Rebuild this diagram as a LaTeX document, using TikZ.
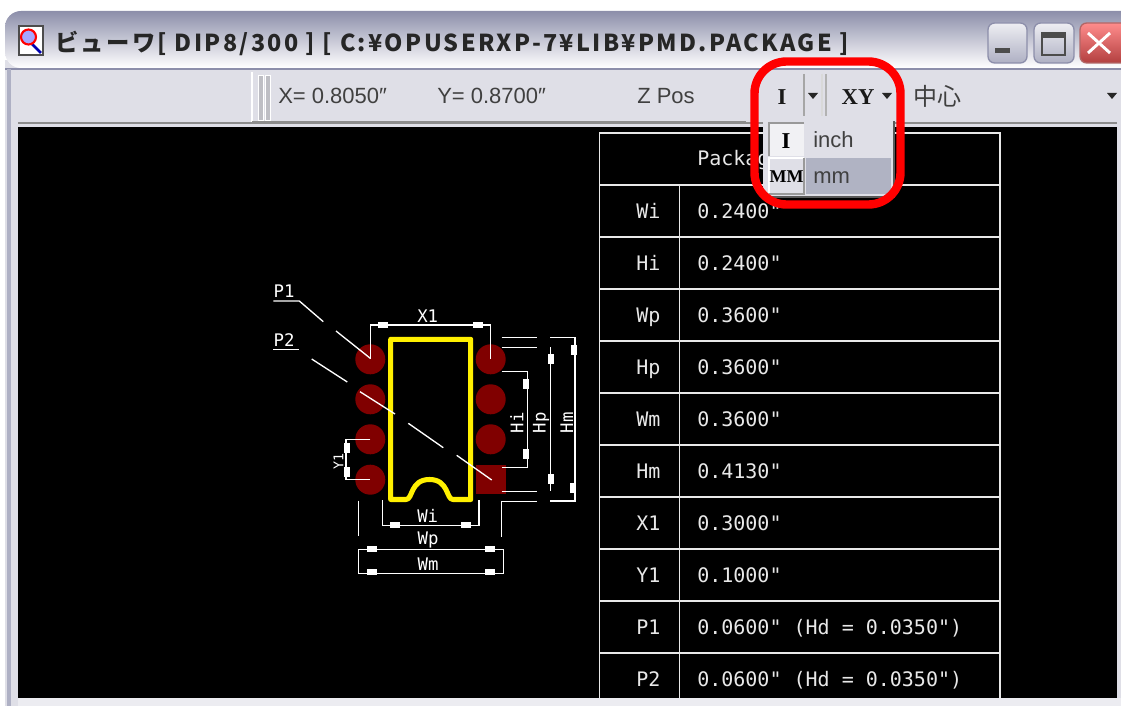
\documentclass[tikz,border=0pt]{standalone}
\usepackage{fontspec}
\setmainfont{Liberation Sans}
\setmonofont{DejaVu Sans Mono}
\newfontfamily\serifbold{Liberation Serif}
\newfontfamily\cjk{Noto Sans CJK JP}
\newfontfamily\titlecjk[LetterSpace=10]{Noto Sans CJK JP}
\definecolor{mypanel}{RGB}{223,223,231}
\definecolor{myedge}{RGB}{140,142,170}
\definecolor{mypad}{RGB}{128,0,0}
\definecolor{myyellow}{RGB}{255,240,0}
\definecolor{myhilite}{RGB}{176,179,195}
\definecolor{mygrid}{RGB}{232,232,232}
\tikzset{
  barlabel/.style = {inner sep=0, anchor=base west, text=black!75, font=\fontsize{16.5}{18}\selectfont},
  celltext/.style = {inner sep=0, anchor=base west, text=mygrid, font=\ttfamily\fontsize{15}{16}\selectfont},
  dimtext/.style = {inner sep=0, text=white, font=\ttfamily\fontsize{13}{14}\selectfont},
  dimline/.style = {white, line width=1pt},
  gridline/.style = {mygrid, line width=1.4pt},
  winbutton/.style = {rounded corners=5, draw=myedge, line width=1pt,
                      top color=white!85!myedge, bottom color=myedge!70},
  arrowmark/.style = {white, fill=white}
}
\begin{document}
\begin{tikzpicture}[x=0.75pt, y=-0.75pt]
\useasboundingbox (0,0) rectangle (1121,706);

%window frame and title bar
\fill[mypanel] (5,706) -- (5,60) -- (1121,60) -- (1121,706) -- cycle;
\path[top color=myedge, bottom color=white, rounded corners=12]
    (5,68) -- (5,11) -- (1140,11) -- (1140,68) -- cycle;
\draw[myedge, line width=2pt] (5,69) -- (1121,69);
\draw[myedge!70, line width=3pt] (9,69) -- (9,706);

%title icon
\draw[black!70, fill=white, line width=1.2pt] (19,26) rectangle (43,55);
\draw[blue!70!black, line width=2pt] (31,43) -- (41,53);
\draw[red, fill=blue!35, line width=1.6pt] (28.5,37) circle (7.5);
\node (titletext) [inner sep=0, anchor=base west, text=black!85]
    at (55,52) {\titlecjk\bfseries\fontsize{17.5}{20}\selectfont ビューワ[ DIP8/300 ] [ C:¥OPUSERXP-7¥LIB¥PMD.PACKAGE ]};

%window buttons
\path[winbutton] (988,23) rectangle (1027,63);
\path[winbutton] (1034,23) rectangle (1074,63);
\path[winbutton, draw=red!50!black!60, top color=red!45!white, bottom color=red!60!black!75] (1080,23) rectangle (1130,63);
\fill[black!70] (995,48) rectangle (1010,53);
\draw[black!70, line width=1pt] (1042,33) rectangle (1065,55);
\fill[black!70] (1042,33) rectangle (1065,38);
\draw[white, line width=2.2pt] (1088,33) -- (1110,53) (1110,33) -- (1088,53);

%toolbar
\draw[white, line width=1pt] (252,122) -- (252,72);
\draw[black!45, line width=1.5pt] (18,123) -- (1117,123);
\draw[black!45, line width=1pt] (252,122) -- (746,122);
\draw[white, fill=mypanel!85!black, line width=.6pt] (258,75) rectangle (263,120);
\draw[white, fill=mypanel!85!black, line width=.6pt] (265,75) rectangle (270,120);
\node (xpos) [barlabel] at (278,104) {X= 0.8050″};
\node (ypos) [barlabel] at (437,104) {Y= 0.8700″};
\node (zpos) [barlabel] at (637,104) {Z Pos};
\draw[black!35, line width=1.5pt] (804,74) -- (804,116);
\draw[black!15, line width=1pt] (822,74) -- (822,116);
\draw[black!30, line width=1.5pt] (826,74) -- (826,116);
\node (unitbtn) [inner sep=0, text=black!90] at (782,97) {\serifbold\bfseries\fontsize{17}{18}\selectfont I};
\node (planebtn) [inner sep=0, text=black!90] at (858,97) {\serifbold\bfseries\fontsize{17}{18}\selectfont XY};
\foreach \x in {813,887,1112}
    \fill[black!85] (\x-5,93) -- (\x+5,93) -- (\x,99) -- cycle;
\node (centerlbl) [inner sep=0, anchor=west, text=black!75] at (913,96) {\cjk\fontsize{18}{20}\selectfont 中心};

%black canvas
\fill[black] (18,127) rectangle (1117,698);
\fill[mypanel!60!white] (18,698) rectangle (1121,706);

%parameter table
\draw[gridline] (599.5,698) -- (599.5,133) -- (1000,133) -- (1000,698);
\draw[gridline] (679.5,185) -- (679.5,698);
\foreach \y in {185,237,289,341,393,445,497,549,601,653}
    \draw[gridline] (599.5,\y) -- (1000,\y);
\node (pkghead) [celltext] at (697,166) {Package};
\foreach \name/\val [count=\i from 0] in {Wi/{0.2400"},Hi/{0.2400"},Wp/{0.3600"},Hp/{0.3600"},Wm/{0.3600"},
        Hm/{0.4130"},X1/{0.3000"},Y1/{0.1000"},P1/{0.0600" (Hd = 0.0350")},P2/{0.0600" (Hd = 0.0350")}}{
    \node (key\name) [celltext] at (636,218.5+52*\i) {\name};
    \node (val\name) [celltext] at (697,218.5+52*\i) {\val};
}

%package pads
\foreach \y in {359.3,399.3,439.3,479.7}
    \fill[mypad] (370.3,\y) circle (15);
\foreach \y in {359.3,399.3,439.3}
    \fill[mypad] (490.7,\y) circle (15);
\fill[mypad] (475.7,465) rectangle (505.7,494.3);

%package outline
\draw[myyellow, line width=3.8pt, line join=round]
    (390.7,339.3) -- (470.7,339.3) -- (470.7,499.5) -- (453,499.5)
    .. controls (446,499.5) and (449,479.5) .. (429.5,479.5)
    .. controls (410,479.5) and (413,499.5) .. (406,499.5)
    -- (390.7,499.5) -- cycle;

%leaders for P1 and P2
\draw[dimline] (273.3,301) -- (299.3,301) -- (323.3,321.7);
\draw[dimline] (336,331) -- (370.3,358.3);
\draw[dimline] (273.3,349.3) -- (299.3,349.3);
\draw[dimline] (311.7,359) -- (347.3,382);
\draw[dimline] (360,391.7) -- (395,414);
\draw[dimline] (408.3,423.3) -- (443.3,447.7);
\draw[dimline] (456.7,455.3) -- (491.7,480);

%dimension lines
\draw[dimline] (370.3,359) -- (370.3,325) -- (490.7,325) -- (490.7,359);
\draw[dimline] (370.3,439.3) -- (346,439.3) -- (346,479.7) -- (370.3,479.7);
\draw[dimline] (501.7,371.7) -- (527.3,371.7) -- (527.3,467.3) -- (501.7,467.3);
\draw[dimline] (501.7,347.3) -- (537.3,347.3);
\draw[dimline] (501.7,491.3) -- (537.3,491.3);
\draw[dimline] (550.7,347.3) -- (550.7,491.3);
\draw[dimline] (501.7,337.3) -- (537.3,337.3);
\draw[dimline] (550,337.3) -- (575,337.3) -- (575,501) -- (550,501);
\draw[dimline] (501.7,536.7) -- (501.7,501.7) -- (537.3,501.7);
\draw[dimline] (382.7,500) -- (382.7,525.7) -- (479,525.7) -- (479,500);
\draw[dimline] (358.3,500.7) -- (358.3,536);
\draw[dimline] (358.3,549.5) rectangle (503.3,573.3);
\foreach \x/\y in {383/325,478/325,395/525,466/525,372/549,490/549,372/572,490/572}
    \fill[arrowmark] (\x-5,\y-3) rectangle (\x+5,\y+3);
\foreach \x/\y in {346.5/448,346.5/472,526/384,526/454,550.7/359,550.7/479,574/350,573/488}
    \fill[arrowmark] (\x-3,\y-5) rectangle (\x+3,\y+5);

%pin and dimension labels
\node (lblP1) [dimtext] at (284,291.5) {P1};
\node (lblP2) [dimtext] at (284,340) {P2};
\node (lblX1) [dimtext] at (427.7,316) {X1};
\node (lblY1) [dimtext, rotate=90, font=\ttfamily\fontsize{10}{11}\selectfont] at (338.5,461) {Y1};
\node (lblHi) [dimtext, rotate=90] at (516.7,422.7) {Hi};
\node (lblHp) [dimtext, rotate=90] at (541,422.7) {Hp};
\node (lblHm) [dimtext, rotate=90] at (566.7,422.7) {Hm};
\node (lblWi) [dimtext] at (427.7,516) {Wi};
\node (lblWp) [dimtext] at (428,540) {Wp};
\node (lblWm) [dimtext] at (428,564) {Wm};

%unit dropdown
\fill[black!65] (765,121) rectangle (895,198);
\fill[mypanel] (763,118) rectangle (893,196);
\fill[white!55!mypanel] (769,123) rectangle (804,156);
\draw[black!40, line width=.8pt] (804,123) -- (769,123) -- (769,156);
\fill[myhilite] (806,158) rectangle (891,194);
\draw[white, line width=.8pt] (769,193) -- (769,158) -- (804,158);
\draw[black!40, line width=.8pt] (769,194) -- (804,194) -- (804,158);
\node (inchicon) [inner sep=0, text=black] at (786,141) {\serifbold\bfseries\fontsize{17}{18}\selectfont I};
\node (mmicon) [inner sep=0, text=black] at (786.5,177) {\serifbold\bfseries\fontsize{13.5}{14}\selectfont MM};
\node (inchlbl) [barlabel] at (813,148) {inch};
\node (mmlbl) [barlabel] at (813,184) {mm};

%red marker
\draw[red, line width=6.3pt, rounded corners=24] (754.5,61.5) rectangle (900.5,204.5);
\end{tikzpicture}
\end{document}
